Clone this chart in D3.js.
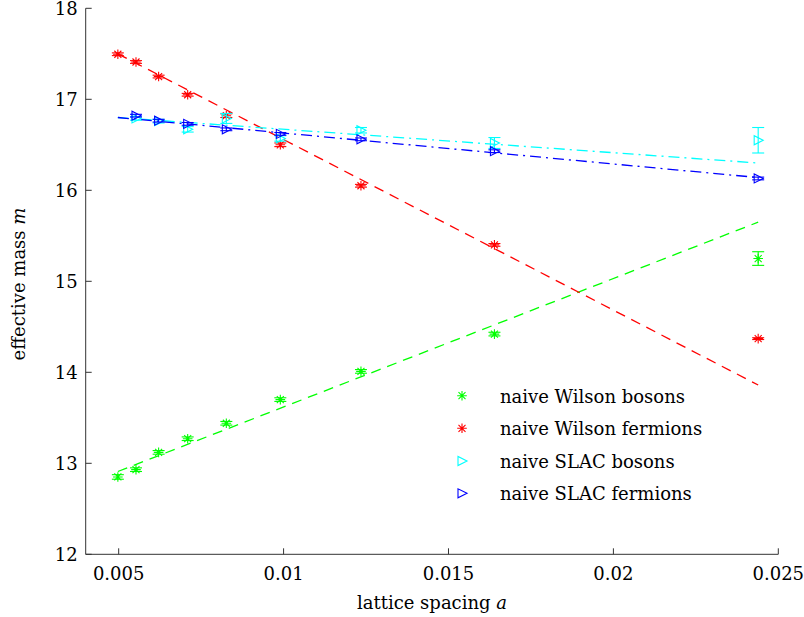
<!DOCTYPE html>
<html>
<head>
<meta charset="utf-8">
<script src="https://cdn.jsdelivr.net/npm/d3@7"></script>
<style>
  html, body { margin: 0; padding: 0; background: #fff; }
</style>
</head>
<body>
<svg id="chart" width="804" height="617"></svg>
<script>
// ---- data ----
const spacingWilson = [0.004975, 0.005525, 0.006211, 0.007092, 0.008264, 0.009901, 0.012346, 0.016393, 0.024390];
const spacingSLAC   = [0.005525, 0.006211, 0.007092, 0.008264, 0.009901, 0.012346, 0.016393, 0.024390];

const wilsonBosons      = [12.85, 12.93, 13.12, 13.27, 13.44, 13.70, 14.01, 14.42, 15.25];
const wilsonBosonsErr   = [0.025, 0.02, 0.02, 0.02, 0.02, 0.02, 0.02, 0.02, 0.075];
const wilsonFermions    = [17.495, 17.41, 17.25, 17.05, 16.82, 16.50, 16.05, 15.40, 14.37];
const wilsonFermionsErr = [0.015, 0.015, 0.015, 0.015, 0.02, 0.02, 0.015, 0.015, 0.01];
const slacBosons        = [16.79, 16.76, 16.67, 16.79, 16.57, 16.66, 16.52, 16.55];
const slacBosonsErr     = [0.02, 0.02, 0.03, 0.055, 0.03, 0.03, 0.06, 0.14];
const slacFermions      = [16.82, 16.765, 16.73, 16.67, 16.62, 16.56, 16.43, 16.13];
const slacFermionsErr   = [0.015, 0.015, 0.015, 0.015, 0.015, 0.015, 0.015, 0.015];

// linear fit end points (a, m)
const fitSpacing        = [0.004975, 0.024390];
const fitWilsonBosons   = [12.91, 15.65];
const fitWilsonFermions = [17.50, 13.86];
const fitSlacBosons     = [16.80, 16.30];
const fitSlacFermions   = [16.80, 16.14];

const xTicks = [0.005, 0.01, 0.015, 0.02, 0.025];
const xTickLabels = ["0.005", "0.01", "0.015", "0.02", "0.025"];
const yTicks = [12, 13, 14, 15, 16, 17, 18];

const legendLabels = ["naive Wilson bosons", "naive Wilson fermions", "naive SLAC bosons", "naive SLAC fermions"];
const colors = ["#00ff00", "#ff0000", "#00ffff", "#0000ff"];

// ---- layout ----
const FONT = "'DejaVu Serif', 'Liberation Serif', serif";
const svg = d3.select("#chart");
const plotLeft = 85.7, plotRight = 778.3, plotTop = 8.3, plotBottom = 554.3;
const x = d3.scaleLinear().domain([0.004, 0.025]).range([plotLeft, plotRight]);
const y = d3.scaleLinear().domain([12, 18]).range([plotBottom, plotTop]);

const series = [
  {xs: spacingWilson, ys: wilsonBosons, err: wilsonBosonsErr, fit: fitWilsonBosons, marker: "star", dash: "10,7"},
  {xs: spacingWilson, ys: wilsonFermions, err: wilsonFermionsErr, fit: fitWilsonFermions, marker: "star", dash: "10,7"},
  {xs: spacingSLAC, ys: slacBosons, err: slacBosonsErr, fit: fitSlacBosons, marker: "tri", dash: "11,5,2,5"},
  {xs: spacingSLAC, ys: slacFermions, err: slacFermionsErr, fit: fitSlacFermions, marker: "tri", dash: "11,5,2,5"}
];

function markerPath(type) {
  if (type === "star") {
    const r = 4.8, d = 3.5;
    return `M${-r},0L${r},0M0,${-r}L0,${r}M${-d},${-d}L${d},${d}M${-d},${d}L${d},${-d}`;
  }
  return "M5,0L-4,-4.5L-4,4.5Z";
}

// fit lines
const line = d3.line().x(d => x(d[0])).y(d => y(d[1]));
series.forEach((s, i) => {
  svg.append("path")
    .attr("d", line(fitSpacing.map((a, k) => [a, s.fit[k]])))
    .attr("fill", "none")
    .attr("stroke", colors[i])
    .attr("stroke-width", 1.3)
    .attr("stroke-dasharray", s.dash);
});

// error bars + markers
series.forEach((s, i) => {
  const g = svg.append("g").attr("stroke", colors[i]).attr("fill", "none").attr("stroke-width", 1.1);
  s.xs.forEach((a, k) => {
    const cx = x(a), y1 = y(s.ys[k] - s.err[k]), y2 = y(s.ys[k] + s.err[k]);
    g.append("line").attr("x1", cx).attr("x2", cx).attr("y1", y1).attr("y2", y2);
    g.append("line").attr("x1", cx - 6).attr("x2", cx + 6).attr("y1", y1).attr("y2", y1);
    g.append("line").attr("x1", cx - 6).attr("x2", cx + 6).attr("y1", y2).attr("y2", y2);
    g.append("path").attr("d", markerPath(s.marker))
      .attr("transform", `translate(${cx},${y(s.ys[k])})`);
  });
});

// axes
const axisColor = "#333";
svg.append("line").attr("x1", plotLeft).attr("x2", plotRight).attr("y1", plotBottom).attr("y2", plotBottom)
  .attr("stroke", axisColor).attr("stroke-width", 1);
svg.append("line").attr("x1", plotLeft).attr("x2", plotLeft).attr("y1", plotTop).attr("y2", plotBottom)
  .attr("stroke", axisColor).attr("stroke-width", 1);

xTicks.forEach((t, i) => {
  svg.append("line").attr("x1", x(t)).attr("x2", x(t)).attr("y1", plotBottom).attr("y2", plotBottom - 6)
    .attr("stroke", axisColor);
  svg.append("text").attr("x", x(t)).attr("y", plotBottom + 26)
    .attr("font-family", FONT)
    .attr("text-anchor", "middle").attr("font-size", 18).text(xTickLabels[i]);
});
yTicks.forEach(t => {
  svg.append("line").attr("x1", plotLeft).attr("x2", plotLeft + 6).attr("y1", y(t)).attr("y2", y(t))
    .attr("stroke", axisColor);
  svg.append("text").attr("x", plotLeft - 8).attr("y", y(t) + 7)
    .attr("font-family", FONT)
    .attr("text-anchor", "end").attr("font-size", 18).text(t);
});

// axis labels
const xl = svg.append("text").attr("x", 432).attr("y", 609).attr("text-anchor", "middle")
  .attr("font-family", FONT).attr("font-size", 18);
xl.append("tspan").text("lattice spacing ");
xl.append("tspan").attr("font-style", "italic").text("a");
const yl = svg.append("text").attr("transform", "translate(25,284) rotate(-90)")
  .attr("font-family", FONT).attr("text-anchor", "middle").attr("font-size", 18);
yl.append("tspan").text("effective mass ");
yl.append("tspan").attr("font-style", "italic").text("m");

// legend
const legY = [395.7, 428.3, 461, 493.3];
series.forEach((s, i) => {
  svg.append("path").attr("d", markerPath(s.marker))
    .attr("transform", `translate(462,${legY[i]})`)
    .attr("stroke", colors[i]).attr("fill", "none").attr("stroke-width", 1.1);
  svg.append("text").attr("x", 500).attr("y", legY[i] + 7).attr("font-size", 18)
    .attr("font-family", FONT).text(legendLabels[i]);
});
</script>
</body>
</html>
